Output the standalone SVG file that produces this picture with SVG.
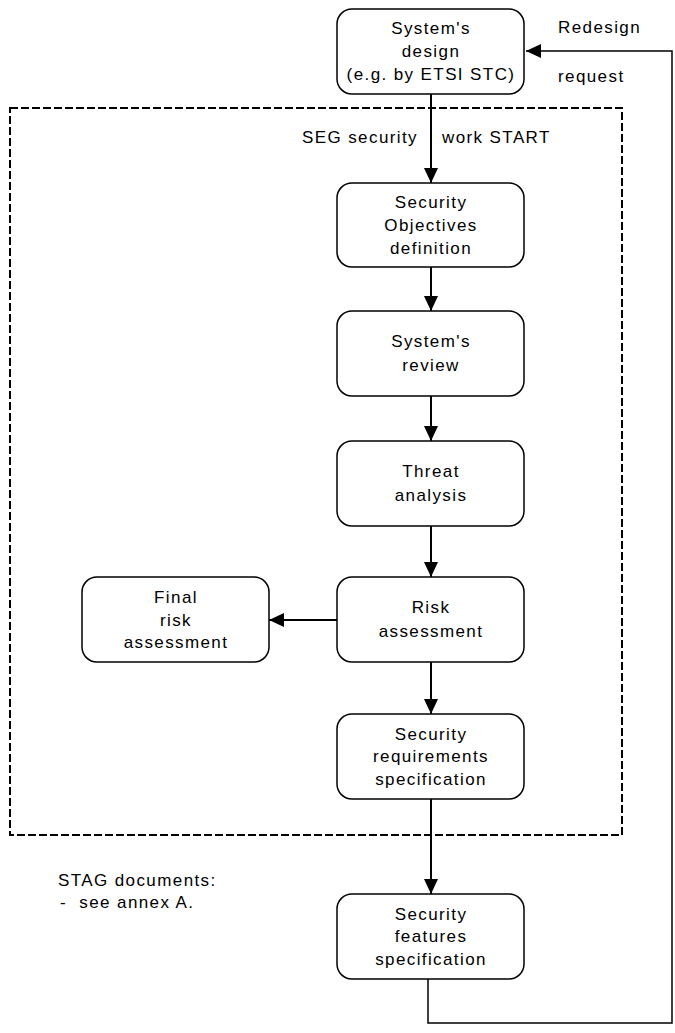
<svg xmlns="http://www.w3.org/2000/svg" width="675" height="1033" viewBox="0 0 675 1033">
  <style>
    .box { fill: #ffffff; stroke: #000000; stroke-width: 1.5; }
    .lbl { font-family: "Liberation Sans", Arial, sans-serif; font-size: 17px; letter-spacing: 1.4px; fill: #000000; }
    .mid { text-anchor: middle; }
    .flow { fill: none; stroke: #000000; stroke-width: 2; }
    .back { fill: none; stroke: #000000; stroke-width: 1.5; }
    .frame { fill: none; stroke: #000000; stroke-width: 2; stroke-dasharray: 8 3; }
  </style>
  <defs>
    <marker id="arrow" viewBox="0 0 15 14" refX="15" refY="7" markerWidth="15" markerHeight="14" markerUnits="userSpaceOnUse" orient="auto">
      <path d="M0,0 L15,7 L0,14 z" fill="#000000"/>
    </marker>
  </defs>

  <rect width="675" height="1033" fill="#ffffff"/>

  <!-- SEG security work boundary -->
  <g id="seg-frame">
    <rect class="frame" x="10" y="108" width="612" height="727"/>
    <text class="lbl" x="302" y="143">SEG security</text>
    <text class="lbl" x="442" y="143">work START</text>
  </g>

  <!-- connectors -->
  <g id="connectors">
    <line class="flow" x1="431" y1="94" x2="431" y2="183" marker-end="url(#arrow)"/>
    <line class="flow" x1="431" y1="267" x2="431" y2="311" marker-end="url(#arrow)"/>
    <line class="flow" x1="431" y1="396" x2="431" y2="441" marker-end="url(#arrow)"/>
    <line class="flow" x1="431" y1="526" x2="431" y2="577" marker-end="url(#arrow)"/>
    <line class="flow" x1="431" y1="662" x2="431" y2="714" marker-end="url(#arrow)"/>
    <line class="flow" x1="431" y1="799" x2="431" y2="894" marker-end="url(#arrow)"/>
    <line class="flow" x1="337" y1="620" x2="269" y2="620" marker-end="url(#arrow)"/>
    <polyline class="back" points="428,979 428,1023 672,1023 672,51 526,51" marker-end="url(#arrow)"/>
    <text class="lbl" x="558" y="33">Redesign</text>
    <text class="lbl" x="558" y="82">request</text>
  </g>

  <g id="systems-design">
    <rect class="box" x="337" y="9" width="187" height="85" rx="15"/>
    <text class="lbl mid" x="431" y="34">System's</text>
    <text class="lbl mid" x="431" y="57">design</text>
    <text class="lbl mid" x="431" y="79.5">(e.g. by ETSI STC)</text>
  </g>

  <g id="security-objectives">
    <rect class="box" x="337" y="183" width="187" height="84" rx="15"/>
    <text class="lbl mid" x="431" y="208">Security</text>
    <text class="lbl mid" x="431" y="231">Objectives</text>
    <text class="lbl mid" x="431" y="253.5">definition</text>
  </g>

  <g id="systems-review">
    <rect class="box" x="337" y="311" width="187" height="85" rx="15"/>
    <text class="lbl mid" x="431" y="347">System's</text>
    <text class="lbl mid" x="431" y="371">review</text>
  </g>

  <g id="threat-analysis">
    <rect class="box" x="337" y="441" width="187" height="85" rx="15"/>
    <text class="lbl mid" x="431" y="477">Threat</text>
    <text class="lbl mid" x="431" y="501">analysis</text>
  </g>

  <g id="risk-assessment">
    <rect class="box" x="337" y="577" width="187" height="85" rx="15"/>
    <text class="lbl mid" x="431" y="613">Risk</text>
    <text class="lbl mid" x="431" y="637">assessment</text>
  </g>

  <g id="final-risk-assessment">
    <rect class="box" x="82" y="577" width="187" height="85" rx="15"/>
    <text class="lbl mid" x="176" y="603">Final</text>
    <text class="lbl mid" x="176" y="625.5">risk</text>
    <text class="lbl mid" x="176" y="648">assessment</text>
  </g>

  <g id="security-requirements">
    <rect class="box" x="337" y="714" width="187" height="85" rx="15"/>
    <text class="lbl mid" x="431" y="739.5">Security</text>
    <text class="lbl mid" x="431" y="762">requirements</text>
    <text class="lbl mid" x="431" y="784.5">specification</text>
  </g>

  <g id="security-features">
    <rect class="box" x="337" y="894" width="187" height="85" rx="15"/>
    <text class="lbl mid" x="431" y="919.5">Security</text>
    <text class="lbl mid" x="431" y="942">features</text>
    <text class="lbl mid" x="431" y="964.5">specification</text>
  </g>

  <g id="stag-note">
    <text class="lbl" x="58" y="886">STAG documents:</text>
    <text class="lbl" x="60" y="908" xml:space="preserve">-  see annex A.</text>
  </g>
</svg>
